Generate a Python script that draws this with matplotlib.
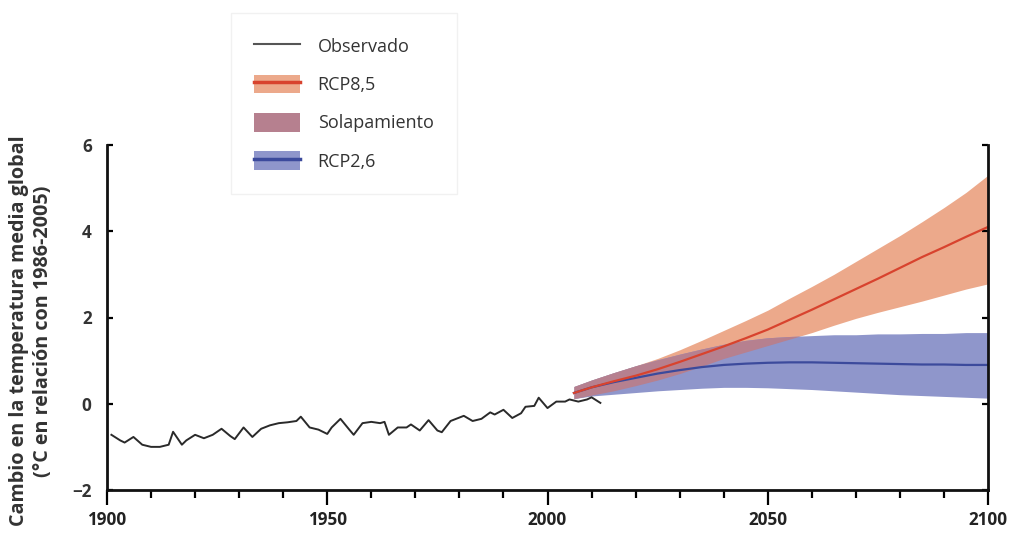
import matplotlib
matplotlib.use("Agg")
import matplotlib.pyplot as plt
import numpy as np
from matplotlib.patches import Patch
from matplotlib.lines import Line2D
from matplotlib.ticker import MultipleLocator

plt.rcParams['font.family'] = ['Open Sans', 'DejaVu Sans']

# Observed
obs_years = [1901,1903,1904,1906,1908,1910,1912,1914,1915,1917,1918,1920,1922,1924,1926,1928,1929,
             1931,1933,1935,1937,1939,1941,1943,1944,1946,1948,1950,1951,1953,1955,1956,1958,1960,
             1962,1963,1964,1966,1968,1969,1971,1973,1975,1976,1978,1980,1981,1983,1985,1987,1988,
             1990,1992,1994,1995,1997,1998,2000,2002,2004,2005,2007,2009,2010,2012]
obs_vals = [-0.72,-0.85,-0.9,-0.77,-0.95,-1.0,-1.0,-0.95,-0.65,-0.95,-0.85,-0.72,-0.8,-0.72,-0.58,-0.75,-0.82,
            -0.55,-0.77,-0.58,-0.5,-0.45,-0.43,-0.4,-0.3,-0.55,-0.6,-0.7,-0.55,-0.35,-0.6,-0.72,-0.45,-0.42,
            -0.45,-0.42,-0.72,-0.55,-0.55,-0.48,-0.62,-0.38,-0.62,-0.66,-0.4,-0.32,-0.28,-0.4,-0.35,-0.2,-0.25,
            -0.14,-0.33,-0.22,-0.07,-0.05,0.14,-0.1,0.05,0.05,0.1,0.05,0.1,0.15,0.02]

# Projections
proj_years = [2006,2010,2015,2020,2025,2030,2035,2040,2045,2050,2055,2060,2065,2070,2075,2080,2085,2090,2095,2100]
rcp85_mean = [0.25,0.38,0.52,0.65,0.8,0.97,1.15,1.33,1.52,1.72,1.95,2.18,2.42,2.66,2.9,3.15,3.4,3.63,3.87,4.1]
rcp85_hi   = [0.4,0.55,0.72,0.88,1.05,1.25,1.47,1.7,1.93,2.17,2.45,2.72,3.0,3.3,3.6,3.9,4.22,4.55,4.9,5.3]
rcp85_lo   = [0.12,0.2,0.3,0.42,0.55,0.7,0.87,1.05,1.2,1.35,1.5,1.65,1.82,1.98,2.12,2.25,2.38,2.52,2.66,2.78]
rcp26_mean = [0.25,0.38,0.5,0.6,0.7,0.78,0.85,0.9,0.93,0.95,0.96,0.96,0.95,0.94,0.93,0.92,0.91,0.91,0.9,0.9]
rcp26_hi   = [0.4,0.55,0.72,0.88,1.02,1.15,1.27,1.38,1.47,1.53,1.56,1.58,1.6,1.6,1.62,1.62,1.63,1.63,1.65,1.65]
rcp26_lo   = [0.12,0.18,0.22,0.26,0.3,0.33,0.36,0.38,0.38,0.37,0.35,0.33,0.3,0.27,0.24,0.21,0.19,0.17,0.15,0.13]

labels = ['Observado', 'RCP8,5', 'Solapamiento', 'RCP2,6']

c_orange = '#ECA98B'
c_blue = '#8F96CB'
c_overlap = '#B6808F'
c_red = '#D8432E'
c_dblue = '#3C4A9C'
c_obs = '#2a2a2a'

fig = plt.figure(figsize=(10.13, 5.44), dpi=100)
ax = fig.add_axes([107/1013, 1-490/544, (988-107)/1013, (490-145)/544])

py = np.array(proj_years, dtype=float)
h85 = np.array(rcp85_hi); l85 = np.array(rcp85_lo)
h26 = np.array(rcp26_hi); l26 = np.array(rcp26_lo)

ax.fill_between(py, l85, h85, color=c_orange, lw=0)
ax.fill_between(py, l26, h26, color=c_blue, lw=0)
ov_lo = np.maximum(l85, l26)
ov_hi = np.minimum(h85, h26)
ax.fill_between(py, ov_lo, ov_hi, where=ov_hi > ov_lo, interpolate=True, color=c_overlap, lw=0)

ax.plot(proj_years, rcp26_mean, color=c_dblue, lw=1.6)
ax.plot(proj_years, rcp85_mean, color=c_red, lw=1.6)
ax.plot(obs_years, obs_vals, color=c_obs, lw=1.4)

ax.set_xlim(1900, 2100)
ax.set_ylim(-2, 6)
ax.spines['top'].set_visible(False)
for s in ['left', 'bottom', 'right']:
    ax.spines[s].set_linewidth(2.0)
    ax.spines[s].set_color('#111111')

ax.xaxis.set_major_locator(MultipleLocator(50))
ax.xaxis.set_minor_locator(MultipleLocator(10))
ax.yaxis.set_major_locator(MultipleLocator(2))
ax.tick_params(axis='x', which='major', direction='out', length=11, width=1.6, pad=4,
               labelsize=12.3, labelcolor='#222222')
ax.tick_params(axis='x', which='minor', direction='out', length=6, width=1.6)
ax.tick_params(axis='y', which='major', direction='in', length=4, width=1.6, right=True,
               labelsize=12.3, labelcolor='#333333', pad=11)
for lbl in ax.get_xticklabels() + ax.get_yticklabels():
    lbl.set_fontweight('bold')

fig.text(0.019, 1-331/544, 'Cambio en la temperatura media global', rotation=90,
         ha='center', va='center', fontsize=14.2, color='#333333', fontweight='bold')
fig.text(0.042, 1-331/544, '(°C en relación con 1986-2005)', rotation=90,
         ha='center', va='center', fontsize=14.2, color='#333333', fontweight='bold')

handles = [
    Line2D([], [], color='#555555', lw=1.5),
    (Patch(facecolor=c_orange, edgecolor='none'), Line2D([], [], color=c_red, lw=2.5)),
    Patch(facecolor=c_overlap, edgecolor='none'),
    (Patch(facecolor=c_blue, edgecolor='none'), Line2D([], [], color=c_dblue, lw=2.5)),
]
leg = fig.legend(handles, labels, loc='upper left', bbox_to_anchor=(231/1013, 1-13/544),
                 frameon=True, fontsize=13, handlelength=2.5, handleheight=1.2,
                 labelspacing=1.05, borderpad=1.3, handletextpad=1.0, fancybox=False,
                 borderaxespad=0)
leg.get_frame().set_edgecolor('#eeeeee')
leg.get_frame().set_linewidth(1.0)
for t in leg.get_texts():
    t.set_color('#333333')

fig.savefig('out.png', dpi=100)
